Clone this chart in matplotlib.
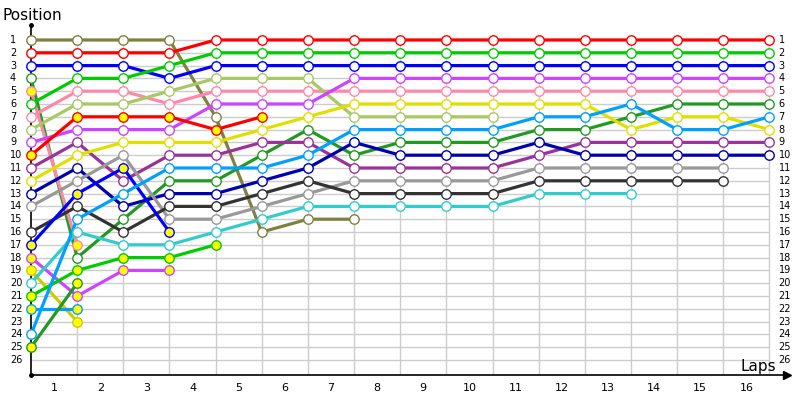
import matplotlib
matplotlib.use('Agg')
import matplotlib.pyplot as plt

# positions per lap (lap 0 = start)
olive = [1, 1, 1, 1, 7, 16, 15, 15]
red = [2, 2, 2, 2, 1, 1, 1, 1, 1, 1, 1, 1, 1, 1, 1, 1, 1]
blue = [3, 3, 3, 4, 3, 3, 3, 3, 3, 3, 3, 3, 3, 3, 3, 3, 3]
fgreen = [4, 18, 15, 12, 12, 10, 8, 10, 9, 9, 9, 8, 8, 7, 6, 6, 6]
pink2 = [5, 17]
green = [6, 4, 4, 3, 2, 2, 2, 2, 2, 2, 2, 2, 2, 2, 2, 2, 2]
pink = [7, 5, 5, 6, 5, 5, 5, 5, 5, 5, 5, 5, 5, 5, 5, 5, 5]
lgreen = [8, 6, 6, 5, 4, 4, 4, 7, 7, 7, 7]
magenta = [9, 8, 8, 8, 6, 6, 6, 4, 4, 4, 4, 4, 4, 4, 4, 4, 4]
red2 = [10, 7, 7, 7, 8, 7]
dpurple = [11, 9, 12, 10, 10, 9, 9, 11, 11, 11, 11, 10, 9, 9, 9, 9, 9]
yellow = [12, 10, 9, 9, 9, 8, 7, 6, 6, 6, 6, 6, 6, 8, 7, 7, 8]
navy = [13, 11, 14, 13, 13, 12, 11, 9, 10, 10, 10, 9, 10, 10, 10, 10, 10]
gray = [14, 12, 10, 15, 15, 14, 13, 12, 12, 12, 12, 11, 11, 11, 11, 11]
dgray = [16, 14, 16, 14, 14, 13, 12, 13, 13, 13, 13, 12, 12, 12, 12, 12]
blue2 = [17, 13, 11, 16]
magenta2 = [18, 21, 19, 19]
yellow2 = [19, 23]
cyan = [20, 16, 17, 17, 16, 15, 14, 14, 14, 14, 14, 13, 13, 13]
green2 = [21, 19, 18, 18, 17]
lblue2 = [22, 22]
lblue = [24, 15, 13, 11, 11, 11, 10, 8, 8, 8, 8, 7, 7, 6, 8, 8, 7]
fgreen2 = [25, 20]

series = [olive, red, blue, fgreen, pink2, green, pink, lgreen, magenta, red2,
          dpurple, yellow, navy, gray, dgray, blue2, magenta2, yellow2, cyan,
          green2, lblue2, lblue, fgreen2]
colors = ['#808040', '#ff0000', '#0000ff', '#229922', '#ff88aa', '#00cc00',
          '#ff88aa', '#a8c864', '#cc44ff', '#ff0000', '#993399', '#e0e000',
          '#0000b0', '#999999', '#333333', '#0000ff', '#cc44ff', '#cccc00',
          '#33cccc', '#00cc00', '#00a0ff', '#00a0ff', '#229922']
# yellow filled markers
flagged = [False, False, False, False, True, False, False, False, False, True,
           False, False, False, False, False, True, True, True, False,
           True, True, False, True]

laps = 16
n_pos = 26
x_labels = [str(i) for i in range(1, laps + 1)]

fig = plt.figure(figsize=(8, 4), dpi=100)
ax = fig.add_axes([31 / 800, 25 / 400, 756 / 800, 350 / 400])
ax.set_xlim(0, 16.38)
ax.set_ylim(27.17, -0.17)

# grid
ax.hlines(range(1, n_pos + 1), 0, laps, color='#cccccc', lw=1, zorder=1)
ax.vlines(range(1, laps + 1), 0.7, 27.17, color='#cccccc', lw=1, zorder=1)

for pos, c, f in zip(series, colors, flagged):
    x = list(range(len(pos)))
    ax.plot(x, pos, color=c, lw=2.3, zorder=3, solid_capstyle='round', clip_on=False)
    ax.plot(x, pos, ls='none', marker='o', ms=6.8, mec=c, mew=1,
            mfc='#ffff00' if f else 'white', zorder=4, clip_on=False)

for s in ['top', 'right']:
    ax.spines[s].set_visible(False)
for s in ['left', 'bottom']:
    ax.spines[s].set_linewidth(1.2)
    ax.spines[s].set_zorder(2)
ax.set_xticks([])
ax.set_yticks([])

# axis ends
ax.plot([0], [27.17], 'o', color='black', ms=2.5, clip_on=False, zorder=5)
ax.plot([0], [-0.17], 'o', color='black', ms=2.5, clip_on=False, zorder=5)
ax.plot([16.38], [27.17], '>', color='black', ms=6, clip_on=False, zorder=5)

# position labels on both sides
for p in range(1, n_pos + 1):
    ax.text(-21 / 46.15, p, str(p), ha='left', va='center', fontsize=7)
    ax.text(laps + 9 / 46.15, p, str(p), ha='left', va='center', fontsize=7)

for i, lab in enumerate(x_labels):
    ax.text(i + 0.5, 27.17 + 13 / 12.8, lab, ha='center', va='center', fontsize=8)

fig.text(3 / 800, 1 - 15 / 400, 'Position', ha='left', va='center', fontsize=11)
fig.text(776 / 800, 1 - 366 / 400, 'Laps', ha='right', va='center', fontsize=11)

fig.savefig('out.png', dpi=100)
